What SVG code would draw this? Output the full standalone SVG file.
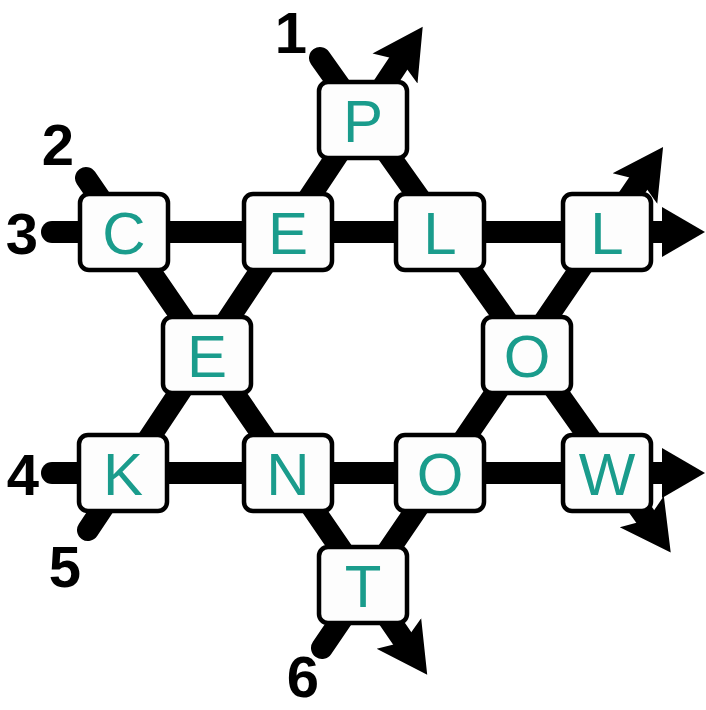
<svg xmlns="http://www.w3.org/2000/svg" width="706" height="710" viewBox="0 0 706 710">
<style>
.ln{stroke:#000;stroke-width:22;stroke-linecap:round;fill:none}
.arr{marker-end:url(#ah)}
.arrf{marker-end:url(#ahf)}
.box{fill:#fdfdfd;stroke:#000;stroke-width:4.5}
.let{font-family:"Liberation Sans",Arial,sans-serif;font-size:60px;fill:#1a9c8c;text-anchor:middle}
.num{font-family:"Liberation Sans",Arial,sans-serif;font-size:58px;font-weight:bold;fill:#000;text-anchor:middle}
</style>
<defs>
<marker id="ah" markerUnits="userSpaceOnUse" markerWidth="52" markerHeight="56" refX="9" refY="28" orient="auto" viewBox="0 0 52 56">
<path d="M0,1 L50,28 L0,55 L10,28 z" fill="#000"/>
</marker>
<marker id="ahf" markerUnits="userSpaceOnUse" markerWidth="44" markerHeight="52" refX="0" refY="26" orient="auto" viewBox="0 0 44 52">
<path d="M0,1 L43,26 L0,51 z" fill="#000"/>
</marker>
</defs>
<g id="connectors">
<line class="ln arr" x1="320" y1="58" x2="647" y2="519"/>
<line class="ln arr" x1="86" y1="178" x2="404" y2="641"/>
<line class="ln arrf" x1="52" y1="232" x2="662" y2="232"/>
<line class="ln arrf" x1="52" y1="473" x2="662" y2="473"/>
<line class="ln arr" x1="88" y1="530" x2="400" y2="61"/>
<line class="ln arr" x1="322" y1="648" x2="640" y2="181"/>
</g>
<g id="labels">
<text class="num" x="291" y="53">1</text>
<text class="num" x="58" y="165">2</text>
<text class="num" x="22" y="254">3</text>
<text class="num" x="23" y="495">4</text>
<text class="num" x="65" y="587">5</text>
<text class="num" x="303" y="697">6</text>
</g>
<g id="node-P"><rect class="box" x="319" y="82" width="88" height="76" rx="9"/><text class="let" x="363" y="142">P</text></g>
<g id="node-C"><rect class="box" x="80" y="194" width="88" height="76" rx="9"/><text class="let" x="124" y="254">C</text></g>
<g id="node-E1"><rect class="box" x="244" y="194" width="88" height="76" rx="9"/><text class="let" x="288" y="254">E</text></g>
<g id="node-L1"><rect class="box" x="396" y="194" width="88" height="76" rx="9"/><text class="let" x="440" y="254">L</text></g>
<g id="node-L2"><rect class="box" x="563" y="194" width="88" height="76" rx="9"/><text class="let" x="607" y="254">L</text></g>
<g id="node-E2"><rect class="box" x="163" y="317" width="88" height="76" rx="9"/><text class="let" x="207" y="377">E</text></g>
<g id="node-O1"><rect class="box" x="483" y="317" width="88" height="76" rx="9"/><text class="let" x="527" y="377">O</text></g>
<g id="node-K"><rect class="box" x="79" y="435" width="88" height="76" rx="9"/><text class="let" x="123" y="495">K</text></g>
<g id="node-N"><rect class="box" x="244" y="435" width="88" height="76" rx="9"/><text class="let" x="288" y="495">N</text></g>
<g id="node-O2"><rect class="box" x="396" y="435" width="88" height="76" rx="9"/><text class="let" x="440" y="495">O</text></g>
<g id="node-W"><rect class="box" x="563" y="435" width="88" height="76" rx="9"/><text class="let" x="607" y="495">W</text></g>
<g id="node-T"><rect class="box" x="319" y="547" width="88" height="76" rx="9"/><text class="let" x="363" y="607">T</text></g>
</svg>
